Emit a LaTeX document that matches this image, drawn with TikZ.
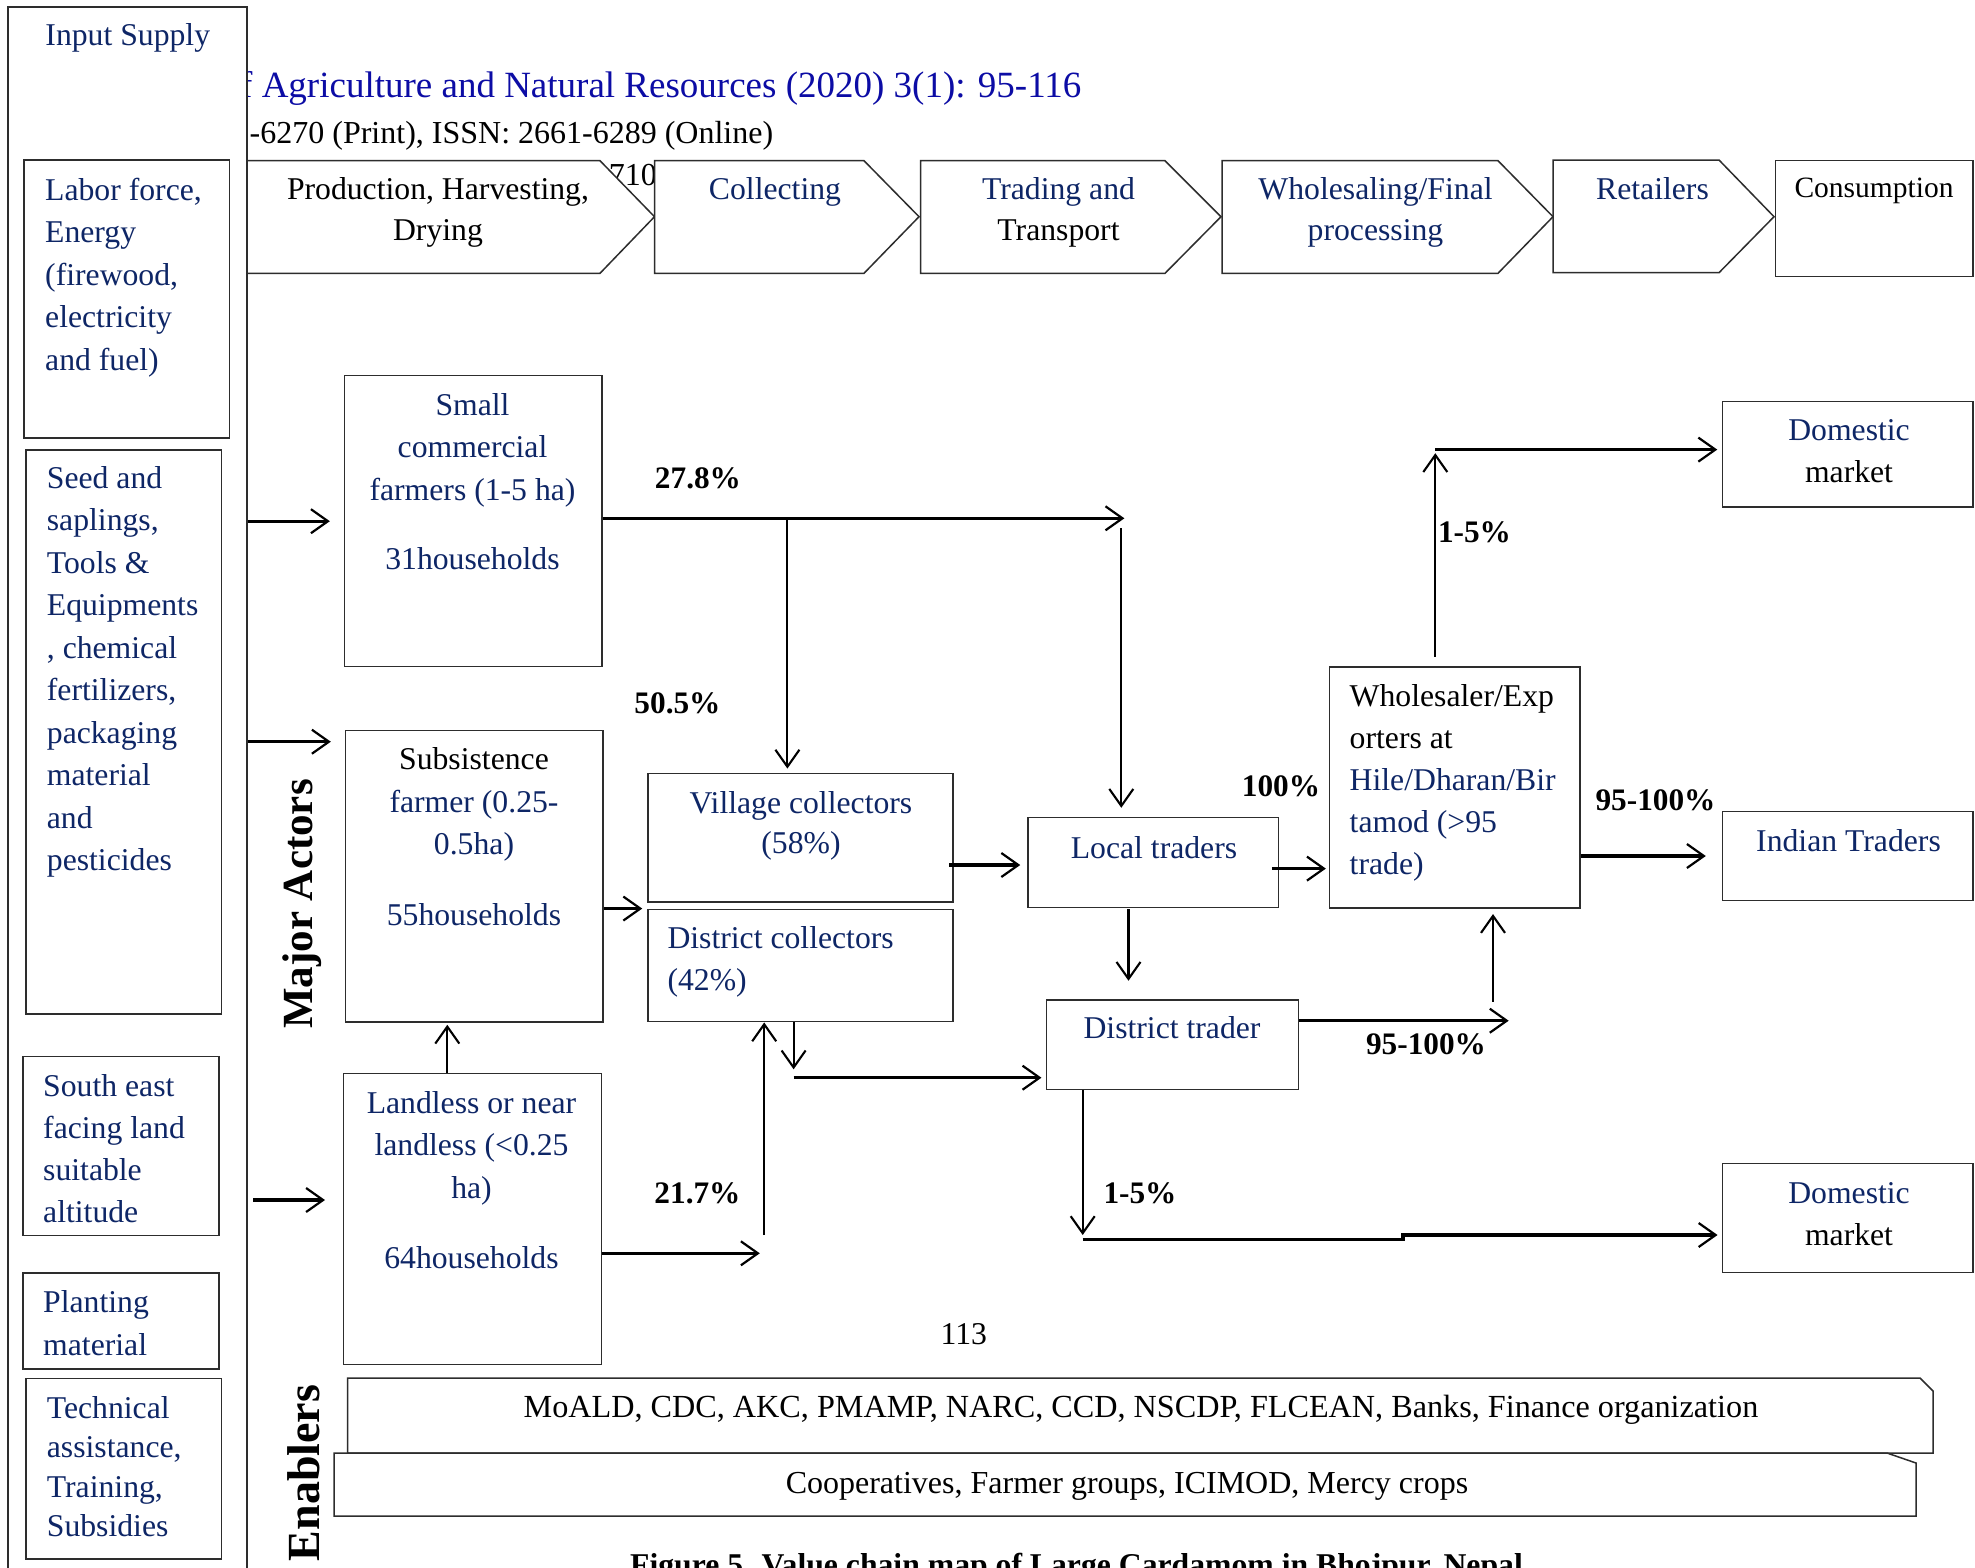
\documentclass[tikz,border=0pt]{standalone}
\usepackage{fontspec}
\setmainfont{Liberation Serif}
\usetikzlibrary{arrows.meta,fit}
\definecolor{navy}{RGB}{14,38,102}
\definecolor{ttl}{RGB}{12,12,165}
\definecolor{edge}{RGB}{45,45,45}
\newcommand\myfl{\rule{0pt}{30pt}}
\begin{document}
\begin{tikzpicture}[x=1pt,y=-1pt,
  box/.style={draw=edge,line width=1.5pt,fill=white,inner sep=0pt},
  t/.style={inner sep=0pt,text=navy,font=\fontsize{31.7}{42.5}\selectfont},
  tk/.style={t,text=black},
  lbl/.style={inner sep=0pt,anchor=base,font=\fontsize{31.3}{37}\selectfont\bfseries},
  harr/.style={line width=3.1pt,-{Straight Barb[length=17pt,width=24pt,line width=2.2pt]}},
  varr/.style={line width=2.1pt,-{Straight Barb[length=17pt,width=24pt,line width=2.1pt]}},
]
\useasboundingbox (0,0) rectangle (1975,1567);
\fill[white] (0,0) rectangle (1975,1567);
% header remnants
\node[inner sep=0pt,anchor=base west,text=ttl,font=\fontsize{37}{44}\selectfont] (jt) at (240,97) {f Agriculture and Natural Resources (2020) 3(1): 95-116};
\node[inner sep=0pt,anchor=base west,font=\fontsize{32}{38}\selectfont] (issn) at (249.5,143) {-6270 (Print), ISSN: 2661-6289 (Online)};
\node[inner sep=0pt,anchor=base east,font=\fontsize{32}{38}\selectfont] (pg) at (657,185) {710};
% input supply column
\node[box,fit={(8,7)(247,1600)}] (inp) {};
\node[box,fit={(24,160)(229.3,438)}] (lab) {};
\node[box,fit={(26,450)(221.7,1014)}] (seed) {};
\node[box,fit={(23,1056.7)(219,1235.5)}] (se) {};
\node[box,fit={(23,1273)(219,1369)}] (pl) {};
\node[box,fit={(26,1378.6)(221.7,1559)}] (tec) {};
% value chain stages
\draw[box] (247,160.7) -- (600,160.7) -- (654.5,216.7) -- (600,273.3) -- (247,273.3) -- cycle;
\draw[box] (654.5,160.7) -- (864,160.7) -- (919,216.7) -- (864,273.3) -- (654.5,273.3) -- cycle;
\draw[box] (920.6,160.7) -- (1165,160.7) -- (1221,216.7) -- (1165,273.3) -- (920.6,273.3) -- cycle;
\draw[box] (1222,160.7) -- (1498,160.7) -- (1553,216.7) -- (1498,273.3) -- (1222,273.3) -- cycle;
\draw[box] (1553,160) -- (1719,160) -- (1774,216.7) -- (1719,272.7) -- (1553,272.7) -- cycle;
\node[box,fit={(1775.5,160.7)(1973,276.7)}] (con) {};
% actors
\node[box,fit={(344.6,375.7)(602,666.7)}] (sc) {};
\node[box,fit={(345.6,730.7)(603,1022)}] (sub) {};
\node[box,fit={(343.3,1073.3)(601.6,1364.3)}] (lan) {};
\node[box,fit={(648,773.3)(953,902)}] (vil) {};
\node[box,fit={(648,909.3)(953,1021.7)}] (dc) {};
\node[box,fit={(1028,817.5)(1278.6,907.5)}] (loc) {};
\node[box,fit={(1046.7,1000)(1298.5,1089.3)}] (dt) {};
\node[box,fit={(1329.6,666.8)(1580.2,907.9)}] (whs) {};
\node[box,fit={(1722.6,401.4)(1973,506.8)}] (dm1) {};
\node[box,fit={(1722.6,811.4)(1973,900.7)}] (ind) {};
\node[box,fit={(1722.6,1163.3)(1973,1272.7)}] (dm2) {};
% enablers
\draw[box] (347.6,1378) -- (1920,1378) -- (1933,1391) -- (1933,1453) -- (347.6,1453) -- cycle;
\draw[box] (334,1453) -- (1887,1453) -- (1916,1463) -- (1916,1516) -- (334,1516) -- cycle;
% coordinates for connector ends
\coordinate (c2) at (330.8,741.7);
\coordinate (c3) at (325,1200);
\coordinate (c3s) at (253,1200);
\coordinate (c4) at (1124.4,518.3);
\coordinate (j5) at (787.4,518.3);
\coordinate (c6) at (1121.3,528);
\coordinate (c8) at (949,865);
\coordinate (c9) at (1271.8,868.6);
\coordinate (c10) at (1128.5,909);
\coordinate (c11) at (447.3,1073.3);
\coordinate (c12) at (759.8,1253.3);
\coordinate (c13) at (764.2,1235);
\coordinate (c14) at (793.6,1069.3);
\coordinate (c15) at (793.6,1077.7);
\coordinate (c16) at (1508.7,1020.7);
\coordinate (c17) at (1493,1001.7);
\coordinate (c18) at (1705.8,856);
\coordinate (c19s) at (1435.3,656.8);
\coordinate (c19) at (1435.3,453.2);
\coordinate (c20) at (1435.3,449.6);
\coordinate (c21) at (1082.7,1235);
\coordinate (c22) at (1082.7,1239.3);
\coordinate (c22b) at (1403,1239.3);
\coordinate (c22c) at (1403,1235);
% connectors
\draw[harr,shorten >=14pt] (inp.east |- sc.west) -- (sc.west);
\draw[harr] (inp.east |- c2) -- (c2);
\draw[harr] (c3s) -- (c3);
\draw[harr] (sc.east |- c4) -- (c4);
\draw[varr,shorten >=4pt] (j5) -- (j5 |- vil.north);
\draw[varr,shorten >=9pt] (c6) -- (c6 |- loc.north);
\draw[harr,shorten >=5pt] (sub.east |- dc.north) -- (dc.north west);
\draw[harr,shorten >=7pt] (c8) -- (c8 -| loc.west);
\draw[harr,shorten >=3pt] (c9) -- (c9 -| whs.west);
\draw[varr,shorten >=18.5pt] (c10) -- (c10 |- dt.north);
\draw[varr,shorten >=2pt] (c11 |- lan.north) -- (c11 |- sub.south);
\draw[harr] (lan.east |- c12) -- (c12);
\draw[varr] (c13) -- (c13 |- dc.south);
\draw[varr] (c14 |- dc.south) -- (c14);
\draw[harr,shorten >=4.5pt] (c15) -- (c15 -| dt.west);
\draw[harr] (dt.east |- c16) -- (c16);
\draw[varr,shorten >=5.4pt] (c17) -- (c17 |- whs.south);
\draw[harr] (whs.east |- c18) -- (c18);
\draw[varr] (c19s) -- (c19);
\draw[harr,shorten >=4.6pt] (c20) -- (c20 -| dm1.west);
\draw[varr] (c21 |- dt.south) -- (c21);
\draw[harr,shorten >=4.3pt] (c22) -- (c22b) -- (c22c) -- (c22c -| dm2.west);
% texts: input supply
\node[t,anchor=base] (inpT) at (127.8,45) {Input Supply};
\node[t,anchor=north west,align=left] (labT) at (45,170) {\myfl Labor force,\\Energy\\(firewood,\\electricity\\and fuel)};
\node[t,anchor=north west,align=left] (seedT) at (46.7,458) {\myfl Seed and\\saplings,\\Tools \&\\Equipments\\, chemical\\fertilizers,\\packaging\\material\\and\\pesticides};
\node[t,anchor=north west,align=left,font=\fontsize{31.7}{42}\selectfont] (seT) at (43,1066.5) {\myfl South east\\facing land\\suitable\\altitude};
\node[t,anchor=north west,align=left,font=\fontsize{31.7}{43}\selectfont] (plT) at (43,1282) {\myfl Planting\\material};
\node[t,anchor=north west,align=left,font=\fontsize{31.7}{39.5}\selectfont] (tecT) at (46.7,1388) {\myfl Technical\\assistance,\\Training,\\Subsidies};
% texts: stages
\node[tk,anchor=north,align=center,font=\fontsize{31.7}{41.5}\selectfont] (prodT) at (438,169) {\myfl Production, Harvesting,\\Drying};
\node[t,anchor=base] (colT) at (775,199) {Collecting};
\node[t,anchor=north,align=center,font=\fontsize{31.7}{41.5}\selectfont] (traT) at (1058.5,169) {\myfl Trading and\\\textcolor{black}{Transport}};
\node[t,anchor=north,align=center,font=\fontsize{31.7}{41.5}\selectfont] (whT) at (1375.5,169) {\myfl Wholesaling/Final\\processing};
\node[t,anchor=base] (retT) at (1652.5,199) {Retailers};
\node[tk,anchor=base,font=\fontsize{29.5}{36}\selectfont] (conT) at (1874,197) {Consumption};
% texts: actors
\node[t,anchor=north,align=center] (scT) at (472.5,385) {\myfl Small\\commercial\\farmers (1-5 ha)\\[26.5pt]31households};
\node[t,anchor=north,align=center] (subT) at (474,739.5) {\myfl\textcolor{black}{Subsistence}\\farmer (0.25-\\0.5ha)\\[28pt]55households};
\node[t,anchor=north,align=center] (lanT) at (471.5,1083) {\myfl Landless or near\\landless (<0.25\\ha)\\[27.5pt]64households};
\node[t,anchor=north,align=center,font=\fontsize{31.7}{40}\selectfont] (vilT) at (801,783) {\myfl Village collectors\\(58\%)};
\node[t,anchor=north west,align=left,font=\fontsize{31.7}{42}\selectfont] (dcT) at (667.3,918) {\myfl District collectors\\(42\%)};
\node[t,anchor=base] (locT) at (1154,858) {Local traders};
\node[t,anchor=base] (dtT) at (1172,1038) {District trader};
\node[t,anchor=north west,align=left,font=\fontsize{31.7}{42}\selectfont] (whsT) at (1349.5,676) {\myfl\textcolor{black}{Wholesaler/Exp}\\\textcolor{black}{orters at}\\Hile/Dharan/Bir\\tamod (>95\\trade)};
\node[t,anchor=north,align=center,font=\fontsize{31.7}{42}\selectfont] (dm1T) at (1849,410) {\myfl Domestic\\\textcolor{black}{market}};
\node[t,anchor=base] (indT) at (1848.5,851) {Indian Traders};
\node[t,anchor=north,align=center,font=\fontsize{31.7}{42.3}\selectfont] (dm2T) at (1849,1173) {\myfl Domestic\\\textcolor{black}{market}};
% enabler texts
\node[tk,anchor=base,font=\fontsize{32.2}{38}\selectfont] (en1T) at (1141,1417) {MoALD, CDC, AKC, PMAMP, NARC, CCD, NSCDP, FLCEAN, Banks, Finance organization};
\node[tk,anchor=base,font=\fontsize{32}{38}\selectfont] (en2T) at (1127,1493) {Cooperatives, Farmer groups, ICIMOD, Mercy crops};
% flow labels
\node[lbl] (l278) at (698,488.5) {27.8\%};
\node[lbl] (l505) at (677.5,713.5) {50.5\%};
\node[lbl] (l217) at (697.5,1203) {21.7\%};
\node[lbl] (l15b) at (1140,1203) {1-5\%};
\node[lbl] (l95a) at (1426,1054) {95-100\%};
\node[lbl] (l100) at (1281,796) {100\%};
\node[lbl] (l95b) at (1655.5,810) {95-100\%};
\node[lbl] (l15t) at (1474.5,542) {1-5\%};
% side titles
\node[inner sep=0pt,rotate=90,font=\fontsize{43}{50}\selectfont\bfseries] (ma) at (302,904) {Major Actors};
\node[inner sep=0pt,rotate=90,font=\fontsize{46}{52}\selectfont\bfseries] (en) at (304,1473) {Enablers};
% page number and caption
\node[inner sep=0pt,anchor=base,font=\fontsize{31.7}{38}\selectfont] (pn) at (963.75,1344) {113};
\node[inner sep=0pt,anchor=base,font=\fontsize{31.7}{38}\selectfont\bfseries] (cap) at (1076.5,1575) {Figure 5. Value chain map of Large Cardamom in Bhojpur, Nepal};
\end{tikzpicture}
\end{document}
